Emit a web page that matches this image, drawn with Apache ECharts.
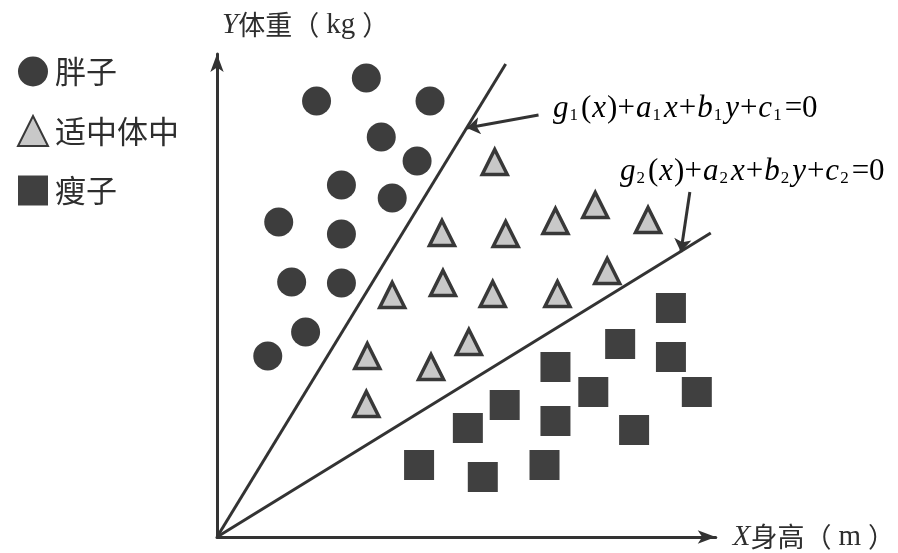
<!DOCTYPE html>
<html><head><meta charset="utf-8">
<script src="https://cdn.jsdelivr.net/npm/echarts@6/dist/echarts.min.js"></script>
<style>html,body{margin:0;padding:0;background:#fff}#c{width:898px;height:553px}</style>
</head><body><div id="c"></div>
<script>
// Category names
const seriesNames = ['胖子', '适中体中', '瘦子'];
// Points [height-axis, weight-axis] in arbitrary chart units
const fatPoints = [[150,459],[100,436],[214,436],[165,400],[201,376],[125,352],[176,339],[62,315],[125,303],[75,255],[125,254],[89,205],[51,181]];
const normalPoints = [[279,375],[380,332],[340,316],[433,317],[226,304],[290,303],[392,266],[227,254],[176,242],[277,243],[342,243],[253,195],[151,181],[215,170],[150,133]];
const thinPoints = [[456,229],[405,193],[456,180],[340,170],[378,145],[482,145],[289,132],[252,109],[340,116],[419,107],[203,72],[329,72],[267,60]];
// Decision boundaries (through origin)
const boundary1 = [[0,0],[290,473]];
const boundary2 = [[0,0],[496,304]];
// Annotation pointers
const pointer1 = [[323,422],[251,409]];
const pointer2 = [[475,345],[466,285]];
const axisRange = {xMax: 501, yMax: 483};

const SERIF = "Liberation Serif";
const CJK = "Noto Sans CJK SC";
const ink = '#2e2e2e';

const eqRich = {
  i: {fontFamily: SERIF, fontStyle: 'italic', fontSize: 31, color: ink, padding: [0, 1, 0, 0]},
  n: {fontFamily: SERIF, fontSize: 31, color: ink, padding: [0, 1, 0, 0]},
  s: {fontFamily: SERIF, fontSize: 17, color: ink, verticalAlign: 'bottom', padding: [0, 3, 0, 0]}
};
const eq1 = '{i|g}{s|1}{n|(}{i|x}{n|)+}{i|a}{s|1}{i|x}{n|+}{i|b}{s|1}{i|y}{n|+}{i|c}{s|1}{n|=0}';
const eq2 = '{i|g}{s|2}{n|(}{i|x}{n|)+}{i|a}{s|2}{i|x}{n|+}{i|b}{s|2}{i|y}{n|+}{i|c}{s|2}{n|=0}';

const nameRich = {
  i: {fontFamily: SERIF, fontStyle: 'italic', fontSize: 29, color: ink},
  c: {fontFamily: CJK, fontSize: 27, color: ink},
  n: {fontFamily: SERIF, fontSize: 29, color: ink, padding: [0, 7, 0, 7]}
};

const chart = echarts.init(document.getElementById('c'), null, {renderer: 'canvas'});
chart.setOption({
  backgroundColor: '#fff',
  animation: false,
  grid: {left: 217, top: 54, width: 501, height: 483},
  legend: {
    data: seriesNames,
    orient: 'vertical',
    left: 12, top: 51,
    itemWidth: 30, itemHeight: 30, itemGap: 28,
    textStyle: {fontFamily: CJK, fontSize: 31, color: ink, padding: [0, 0, 0, 2]}
  },
  xAxis: {
    type: 'value', min: 0, max: axisRange.xMax,
    axisLine: {show: true, symbol: ['none', 'arrow'], symbolSize: [10, 18], lineStyle: {color: '#333', width: 3}},
    axisTick: {show: false}, axisLabel: {show: false}, splitLine: {show: false},
    name: '{i|X}{c|身高（}{n|m}{c|）}', nameLocation: 'end', nameGap: 17,
    nameTextStyle: {rich: nameRich, align: 'left', verticalAlign: 'middle'}
  },
  yAxis: {
    type: 'value', min: 0, max: axisRange.yMax,
    axisLine: {show: true, symbol: ['none', 'arrow'], symbolSize: [10, 18], lineStyle: {color: '#333', width: 3}},
    axisTick: {show: false}, axisLabel: {show: false}, splitLine: {show: false},
    name: '{i|Y}{c|体重（}{n|kg}{c|）}', nameLocation: 'end', nameGap: 29,
    nameTextStyle: {rich: nameRich, align: 'left', verticalAlign: 'middle', padding: [0, 0, 0, 5]}
  },
  series: [
    {name: seriesNames[0], type: 'scatter', data: fatPoints, symbol: 'circle', symbolSize: 29,
      itemStyle: {color: '#3d3d3d', opacity: 1}},
    {name: seriesNames[1], type: 'scatter', data: normalPoints, symbol: 'triangle', symbolSize: 25,
      itemStyle: {color: '#c8c8c8', borderColor: '#383838', borderWidth: 3.5, opacity: 1}},
    {name: seriesNames[2], type: 'scatter', data: thinPoints, symbol: 'rect', symbolSize: 30,
      itemStyle: {color: '#404040', opacity: 1}},
    {type: 'lines', coordinateSystem: 'cartesian2d', silent: true, symbol: 'none', z: 1,
      lineStyle: {color: '#333', width: 3, opacity: 1},
      data: [{coords: boundary1}, {coords: boundary2}]},
    {type: 'lines', coordinateSystem: 'cartesian2d', silent: true, symbol: ['none', 'arrow'], symbolSize: 13,
      lineStyle: {color: '#333', width: 3, opacity: 1},
      data: [{coords: pointer1}, {coords: pointer2}]}
  ],
  graphic: [
    {type: 'text', x: 553, y: 109, style: {text: eq1, rich: eqRich, align: 'left', verticalAlign: 'middle'}},
    {type: 'text', x: 620, y: 172, style: {text: eq2, rich: eqRich, align: 'left', verticalAlign: 'middle'}}
  ]
});
</script></body></html>
